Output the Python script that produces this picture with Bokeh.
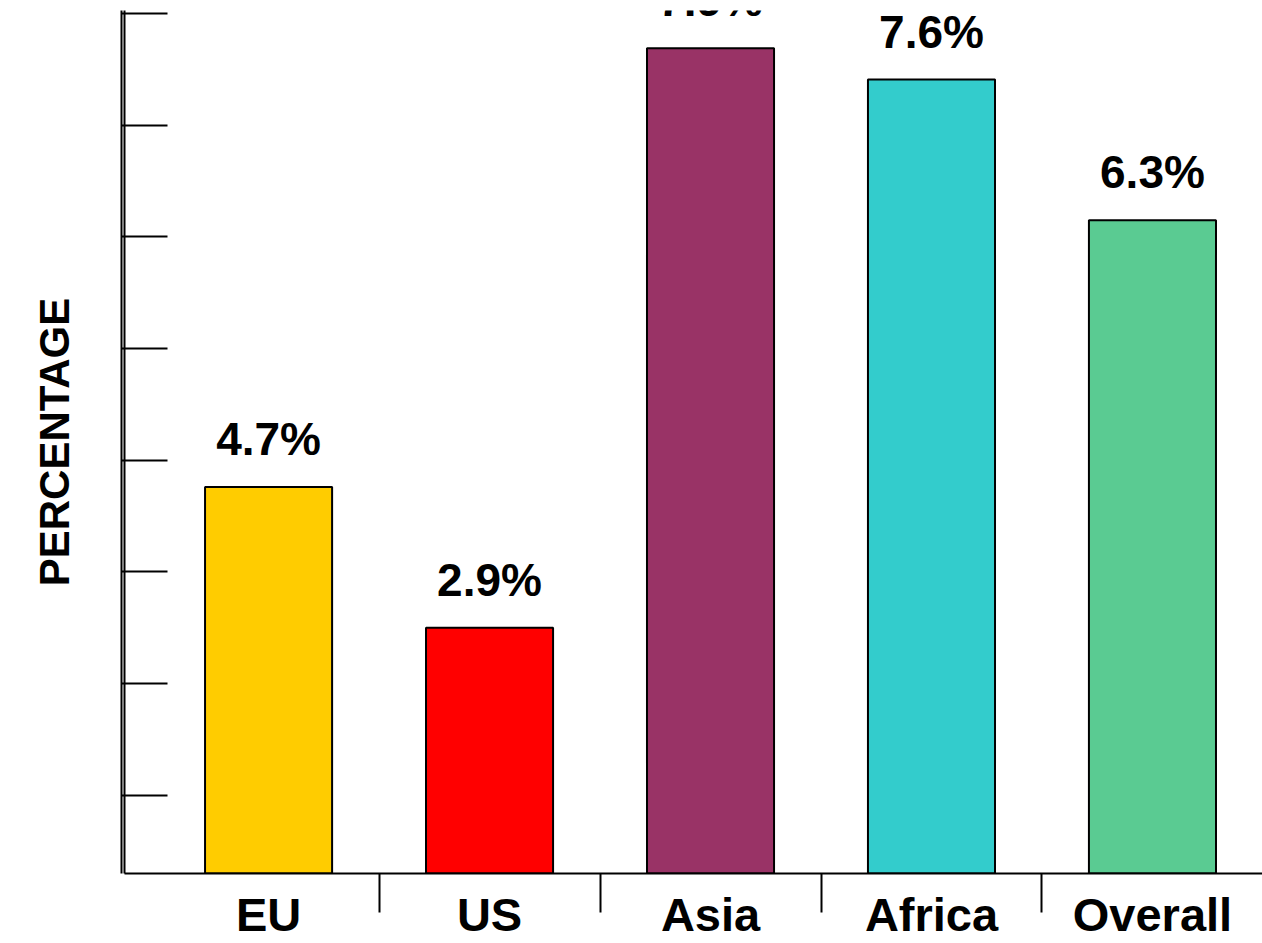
from bokeh.plotting import figure
from bokeh.models import LinearAxis, FixedTicker, Range1d, CustomJSTickFormatter, ColumnDataSource
from bokeh.core.properties import value
from bokeh.embed import file_html
from bokeh.resources import INLINE

# ---- data ----
categories = ["EU", "US", "Asia", "Africa", "Overall"]
percentages = [4.7, 2.9, 7.9, 7.6, 6.3]
# bar heights as drawn in the picture, in units of the y-axis tick spacing
# (the original bars are not drawn proportionally to their labels)
bar_heights = [3.46, 2.20, 7.39, 7.11, 5.85]
colors = ["#FFCC00", "#FF0000", "#993366", "#33CCCC", "#5ACB92"]
y_tick_offset = 0.70
n_y_ticks = 8

FONT = "Liberation Sans"

idx = list(range(len(categories)))
labels = [f"{v}%" for v in percentages]
source = ColumnDataSource(dict(x=idx, top=bar_heights, color=colors, label=labels))

p = figure(width=1262, height=943, output_backend="svg", toolbar_location=None,
           x_range=Range1d(-0.652, 4.498), y_range=Range1d(0, 7.728),
           x_axis_type=None, y_axis_type=None,
           min_border_left=124, min_border_right=0, min_border_top=10, min_border_bottom=70)
p.outline_line_color = None
p.background_fill_color = "white"
p.border_fill_color = "white"

p.vbar(x="x", top="top", bottom=0, width=0.575, fill_color="color",
       line_color="black", line_width=2, source=source)

p.text(x="x", y="top", text="label", text_align="center", text_baseline="alphabetic",
       y_offset=-48, text_font=value(FONT), text_font_style="bold",
       text_font_size="46px", text_color="black", source=source)

# x axis at the baseline, category ticks between bars
xaxis = LinearAxis(ticker=FixedTicker(ticks=idx, minor_ticks=[i + 0.5 for i in idx[:-1]]),
                   major_label_overrides={i: c for i, c in zip(idx, categories)},
                   major_tick_in=0, major_tick_out=0,
                   minor_tick_in=0, minor_tick_out=39,
                   minor_tick_line_width=2, minor_tick_line_color="black",
                   axis_line_width=2, axis_line_color="black",
                   major_label_standoff=-25,
                   major_label_text_font=FONT, major_label_text_font_style="bold",
                   major_label_text_font_size="47px", major_label_text_color="black")
p.add_layout(xaxis, "below")

y_ticks = [y_tick_offset + k for k in range(n_y_ticks)]

# double line of the value axis: a bare line next to the frame...
y_line = LinearAxis(ticker=FixedTicker(ticks=y_ticks), major_tick_in=0, major_tick_out=3,
                    major_tick_line_color=None,
                    minor_tick_in=0, minor_tick_out=0, major_label_standoff=0,
                    axis_line_width=2, axis_line_color="black",
                    formatter=CustomJSTickFormatter(code="return ''"))
p.add_layout(y_line, "left")

# ...and the ticked axis with the title
yaxis = LinearAxis(ticker=FixedTicker(ticks=y_ticks),
                   major_tick_in=46, major_tick_out=0, minor_tick_in=0, minor_tick_out=0,
                   major_tick_line_width=2, major_tick_line_color="black",
                   axis_line_width=2, axis_line_color="black",
                   major_label_standoff=0,
                   formatter=CustomJSTickFormatter(code="return ''"),
                   axis_label="PERCENTAGE", axis_label_standoff=44,
                   axis_label_text_font=FONT, axis_label_text_font_style="bold",
                   axis_label_text_font_size="42px", axis_label_text_color="black")
p.add_layout(yaxis, "left")

open("out.html", "w").write(file_html(p, INLINE))
